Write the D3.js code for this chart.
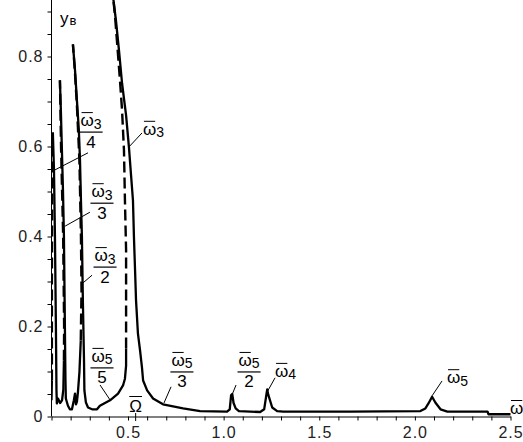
<!DOCTYPE html>
<html>
<head>
<meta charset="utf-8">
<script src="https://cdn.jsdelivr.net/npm/d3@7"></script>
<style>
  html, body { margin: 0; padding: 0; background: #fff; }
  svg { display: block; font-family: "Liberation Sans", Arial, sans-serif; }
</style>
</head>
<body>
<div id="graph"></div>
<script>
'use strict';

// stable branches (solid) as [Omega, yB]
const solidStart = [[0.100, 0.036], [0.102, 0.080]];
const solidPeak1 = [[0.107, 0.631], [0.113, 0.547], [0.118, 0.400], [0.123, 0.200], [0.126, 0.058],
  [0.128, 0.029], [0.134, 0.040], [0.145, 0.030], [0.155, 0.036], [0.162, 0.060], [0.165, 0.124]];
const solidPeak2 = [[0.144, 0.747], [0.149, 0.680], [0.154, 0.598], [0.160, 0.502], [0.165, 0.400],
  [0.170, 0.200], [0.173, 0.080], [0.175, 0.040], [0.186, 0.024], [0.196, 0.016], [0.207, 0.016],
  [0.217, 0.036], [0.223, 0.051], [0.228, 0.027], [0.233, 0.033], [0.238, 0.053], [0.246, 0.098],
  [0.253, 0.169]];
const solidPeak3 = [[0.212, 0.827], [0.223, 0.769], [0.233, 0.702], [0.243, 0.636], [0.249, 0.569],
  [0.254, 0.480], [0.259, 0.400], [0.264, 0.258], [0.270, 0.124], [0.272, 0.058], [0.280, 0.031],
  [0.291, 0.020], [0.312, 0.016], [0.338, 0.016], [0.353, 0.024], [0.406, 0.036], [0.448, 0.051],
  [0.474, 0.069], [0.484, 0.084], [0.490, 0.113], [0.490, 0.151]];
const solidMain = [[0.421, 0.936], [0.437, 0.880], [0.453, 0.813], [0.469, 0.740], [0.490, 0.669],
  [0.505, 0.598], [0.516, 0.536], [0.526, 0.480], [0.531, 0.400], [0.537, 0.324], [0.542, 0.258],
  [0.552, 0.184], [0.563, 0.147], [0.573, 0.109], [0.579, 0.080], [0.600, 0.058], [0.631, 0.040],
  [0.683, 0.027], [0.788, 0.018], [0.877, 0.012], [1.018, 0.011], [1.032, 0.016], [1.039, 0.047],
  [1.045, 0.050], [1.052, 0.030], [1.063, 0.018], [1.080, 0.012], [1.191, 0.010], [1.212, 0.016],
  [1.223, 0.047], [1.228, 0.060], [1.233, 0.049], [1.254, 0.020], [1.280, 0.012], [1.312, 0.011],
  [1.662, 0.011], [2.029, 0.012], [2.055, 0.018], [2.071, 0.029], [2.090, 0.044], [2.107, 0.031],
  [2.134, 0.016], [2.170, 0.011], [2.380, 0.011], [2.385, 0.005], [2.500, 0.005]];

// unstable branches (dashed)
const dashedPeak1 = [[0.102, 0.080], [0.102, 0.300], [0.104, 0.560], [0.107, 0.631]];
const dashedPeak2 = [[0.165, 0.124], [0.166, 0.200], [0.161, 0.400], [0.150, 0.598], [0.146, 0.700], [0.144, 0.747]];
const dashedPeak3 = [[0.253, 0.169], [0.257, 0.280], [0.254, 0.400], [0.246, 0.569], [0.233, 0.690],
  [0.222, 0.769], [0.212, 0.827]];
const dashedMain = [[0.490, 0.151], [0.490, 0.258], [0.490, 0.369], [0.484, 0.480], [0.479, 0.591],
  [0.469, 0.680], [0.458, 0.747], [0.442, 0.836], [0.432, 0.891], [0.421, 0.936]];

const solidSegments = [solidStart, solidPeak1, solidPeak2, solidPeak3, solidMain];
const dashedSegments = [dashedPeak1, dashedPeak2, dashedPeak3, dashedMain];

// axis ticks
const xTicks = d3.range(1, 26).map(i => i / 10);
const xTickLabels = [0.5, 1.0, 1.5, 2.0, 2.5];
const yTicks = d3.range(0, 19).map(i => i * 0.05);
const yTickLabels = [0, 0.2, 0.4, 0.6, 0.8];

// resonance labels: omega-bar_sub / den, bar centre, pointer from -> to
const fracLabels = [
  { sub: '3', den: '4', at: [0.307, 0.632], from: [0.291, 0.586], to: [0.118, 0.548] },
  { sub: '3', den: '3', at: [0.364, 0.474], from: [0.301, 0.454], to: [0.171, 0.423] },
  { sub: '3', den: '2', at: [0.380, 0.332], from: [0.312, 0.314], to: [0.265, 0.297] },
  { sub: '5', den: '5', at: [0.364, 0.108], from: [0.354, 0.070], to: [0.406, 0.037] },
  { sub: '5', den: '3', at: [0.782, 0.099], from: [0.725, 0.066], to: [0.688, 0.030] },
  { sub: '5', den: '2', at: [1.133, 0.099], from: [1.065, 0.070], to: [1.039, 0.043] }
];
const plainLabels = [
  { sub: '3', at: [0.578, 0.626], from: [0.573, 0.630], to: [0.505, 0.599] },
  { sub: '4', at: [1.269, 0.088], from: [1.269, 0.086], to: [1.227, 0.054] },
  { sub: '5', at: [2.168, 0.074], from: [2.142, 0.079], to: [2.090, 0.046] }
];
const omegaForcing = 0.54;

const svg = d3.select('#graph').append('svg')
  .attr('width', 523)
  .attr('height', 442);

const x = d3.scaleLinear().domain([0.1, 2.5]).range([51.5, 510.5]);
const y = d3.scaleLinear().domain([0, 0.92]).range([416.5, 2.5]);

// clip curves to plot box
svg.append('clipPath').attr('id', 'plotClip')
  .append('rect').attr('x', 51).attr('y', 0).attr('width', 472).attr('height', 417);

// axes
const xAxis = d3.axisBottom(x)
  .tickValues(xTicks)
  .tickSize(4)
  .tickSizeOuter(0)
  .tickPadding(6)
  .tickFormat(d => xTickLabels.some(v => Math.abs(v - d) < 1e-6) ? d3.format('.1f')(d) : '');
const gx = svg.append('g')
  .attr('transform', 'translate(0,416.5)')
  .call(xAxis);
gx.selectAll('text').style('font-size', '16px').style('letter-spacing', '1px')
  .attr('y', 10).attr('dy', '0.71em');

const yAxis = d3.axisLeft(y)
  .tickValues(yTicks)
  .tickSize(4)
  .tickSizeOuter(0)
  .tickPadding(4)
  .tickFormat(d => yTickLabels.some(v => Math.abs(v - d) < 1e-6) ? (d === 0 ? '0' : d3.format('.1f')(d)) : '');
const gy = svg.append('g')
  .attr('transform', 'translate(51.5,0)')
  .call(yAxis);
gy.select('.domain').attr('d', 'M0,416.5V0');
gy.selectAll('text').style('font-size', '16px').style('letter-spacing', '1px');

svg.selectAll('.domain, .tick line').attr('stroke', '#000').attr('stroke-width', 1);
svg.selectAll('.tick text').attr('fill', '#222');

// curves
const line = d3.line().x(d => x(d[0])).y(d => y(d[1]));
const curves = svg.append('g').attr('clip-path', 'url(#plotClip)');
curves.selectAll('.solid')
  .data(solidSegments)
  .enter()
  .append('path')
    .attr('class', 'solid')
    .attr('d', line)
    .attr('fill', 'none')
    .attr('stroke', '#000')
    .attr('stroke-width', 2.3)
    .attr('stroke-linejoin', 'round');
curves.selectAll('.dashed')
  .data(dashedSegments)
  .enter()
  .append('path')
    .attr('class', 'dashed')
    .attr('d', line)
    .attr('fill', 'none')
    .attr('stroke', '#000')
    .attr('stroke-width', 2.4)
    .attr('stroke-dasharray', '11,5');

// text helpers
function measure(txt, size) {
  const t = svg.append('text').style('font-size', size + 'px').text(txt);
  const w = t.node().getComputedTextLength();
  t.remove();
  return w;
}

const labels = svg.append('g').attr('fill', '#000');

function omegaBar(x0, base, sub) {
  const wO = measure('ω', 17);
  labels.append('text').attr('x', x0).attr('y', base).style('font-size', '17px').text('ω');
  labels.append('line')
    .attr('x1', x0 + 1).attr('x2', x0 + wO - 1)
    .attr('y1', base - 13.5).attr('y2', base - 13.5)
    .attr('stroke', '#000').attr('stroke-width', 1);
  if (sub) {
    labels.append('text').attr('x', x0 + wO).attr('y', base + 2.5).style('font-size', '14px').text(sub);
  }
  return wO + (sub ? measure(sub, 14) : 0);
}

function pointer(p) {
  labels.append('line')
    .attr('x1', x(p.from[0])).attr('y1', y(p.from[1]))
    .attr('x2', x(p.to[0])).attr('y2', y(p.to[1]))
    .attr('stroke', '#000').attr('stroke-width', 1);
}

fracLabels.forEach(f => {
  const cx = x(f.at[0]);
  const barY = y(f.at[1]);
  const w = measure('ω', 17) + measure(f.sub, 14);
  omegaBar(cx - w / 2, barY - 6, f.sub);
  labels.append('line')
    .attr('x1', cx - w / 2 - 1).attr('x2', cx + w / 2 + 1)
    .attr('y1', barY).attr('y2', barY)
    .attr('stroke', '#000').attr('stroke-width', 1.2);
  labels.append('text')
    .attr('x', cx).attr('y', barY + 15.5)
    .attr('text-anchor', 'middle')
    .style('font-size', '17px')
    .text(f.den);
  pointer(f);
});

plainLabels.forEach(p => {
  omegaBar(x(p.at[0]), y(p.at[1]), p.sub);
  pointer(p);
});

// forcing frequency mark
const ox = x(omegaForcing);
const wOm = measure('Ω', 17);
labels.append('text').attr('x', ox).attr('y', 412).attr('text-anchor', 'middle')
  .style('font-size', '17px').text('Ω');
labels.append('line')
  .attr('x1', ox - wOm / 2).attr('x2', ox + wOm / 2)
  .attr('y1', 396.5).attr('y2', 396.5)
  .attr('stroke', '#000').attr('stroke-width', 1);
labels.append('line')
  .attr('x1', ox).attr('x2', ox).attr('y1', 413).attr('y2', 421)
  .attr('stroke', '#000').attr('stroke-width', 1);

// axis titles
omegaBar(510, 414, '');
labels.append('text').attr('x', 60).attr('y', 24).style('font-size', '17px').text('y');
labels.append('text').attr('x', 69.5).attr('y', 24.5).style('font-size', '13px').text('в');
</script>
</body>
</html>
